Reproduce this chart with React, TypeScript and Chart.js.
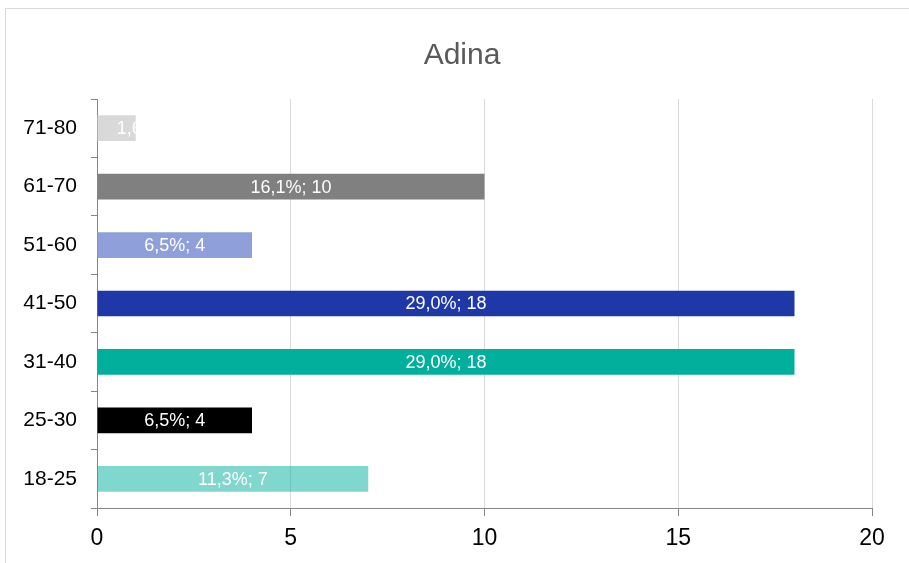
import React, { useEffect, useRef } from 'react';
import { Chart, registerables } from 'chart.js';

Chart.register(...registerables);

const titleText = 'Adina';
const categories = ['71-80', '61-70', '51-60', '41-50', '31-40', '25-30', '18-25'];
const counts = [1, 10, 4, 18, 18, 4, 7];
const percentLabels = ['1,6%', '16,1%', '6,5%', '29,0%', '29,0%', '6,5%', '11,3%'];
const barColors = ['#d9d9d9', '#808080', '#8e9fd9', '#1f38a8', '#00b09c', '#000000', 'rgba(0,176,156,0.5)'];
const xMin = 0;
const xMax = 20;
const xStep = 5;

const FONT = '"Liberation Sans", Arial, sans-serif';

const framePlugin = {
  id: 'frameAndTitle',
  beforeDraw(chart: any) {
    const ctx = chart.ctx;
    ctx.save();
    ctx.fillStyle = '#ffffff';
    ctx.fillRect(0, 0, chart.width, chart.height);
    ctx.strokeStyle = '#d9d9d9';
    ctx.lineWidth = 1;
    ctx.strokeRect(5.5, 8.5, 2000, 2000);
    ctx.fillStyle = '#595959';
    ctx.font = `30px ${FONT}`;
    ctx.textAlign = 'center';
    ctx.textBaseline = 'middle';
    ctx.fillText(titleText, 462, 56);
    ctx.restore();
  },
};

const labelPlugin = {
  id: 'barLabels',
  afterDatasetsDraw(chart: any) {
    const ctx = chart.ctx;
    const meta = chart.getDatasetMeta(0);
    meta.data.forEach((bar: any, i: number) => {
      const left = Math.min(bar.base, bar.x);
      const right = Math.max(bar.base, bar.x);
      const top = bar.y - bar.height / 2;
      const text = `${percentLabels[i]}; ${counts[i]}`;
      ctx.save();
      ctx.beginPath();
      ctx.rect(left, top, right - left, bar.height);
      ctx.clip();
      ctx.fillStyle = '#ffffff';
      ctx.font = `18px ${FONT}`;
      ctx.textBaseline = 'middle';
      const w = ctx.measureText(text).width;
      const cx = (left + right) / 2;
      if (w > right - left) {
        ctx.textAlign = 'left';
        ctx.fillText(text, cx, bar.y + 1);
      } else {
        ctx.textAlign = 'center';
        ctx.fillText(text, cx, bar.y + 1);
      }
      ctx.restore();
    });
  },
};

export default function App() {
  const ref = useRef<HTMLCanvasElement | null>(null);
  useEffect(() => {
    if (!ref.current) return;
    const chart = new Chart(ref.current, {
      type: 'bar',
      data: {
        labels: categories,
        datasets: [
          {
            data: counts,
            backgroundColor: barColors,
            borderWidth: 0,
            categoryPercentage: 1,
            barPercentage: 0.44,
          },
        ],
      },
      options: {
        indexAxis: 'y',
        responsive: false,
        animation: false,
        events: [],
        layout: { padding: { top: 99, right: 37, left: 0, bottom: 0 } },
        plugins: {
          legend: { display: false },
          title: { display: false },
          tooltip: { enabled: false },
        },
        scales: {
          x: {
            min: xMin,
            max: xMax,
            ticks: {
              stepSize: xStep,
              color: '#000000',
              font: { family: FONT, size: 23 },
              padding: 9,
            },
            grid: {
              color: '#d9d9d9',
              tickColor: '#868686',
              tickLength: 8,
              lineWidth: 1,
            },
            border: { color: '#868686' },
            afterFit(scale: any) {
              scale.height = 55;
            },
          },
          y: {
            offset: true,
            ticks: {
              color: '#000000',
              font: { family: FONT, size: 21 },
              padding: 14,
            },
            grid: {
              offset: true,
              drawOnChartArea: false,
              color: '#868686',
              tickLength: 6,
            },
            border: { color: '#868686' },
            afterFit(scale: any) {
              scale.width = 97;
            },
          },
        },
      },
      plugins: [framePlugin, labelPlugin],
    });
    return () => chart.destroy();
  }, []);
  return (
    <div style={{ position: 'fixed', left: 0, top: 0, width: 909, height: 563, background: '#fff' }}>
      <canvas ref={ref} width={909} height={563} />
    </div>
  );
}
